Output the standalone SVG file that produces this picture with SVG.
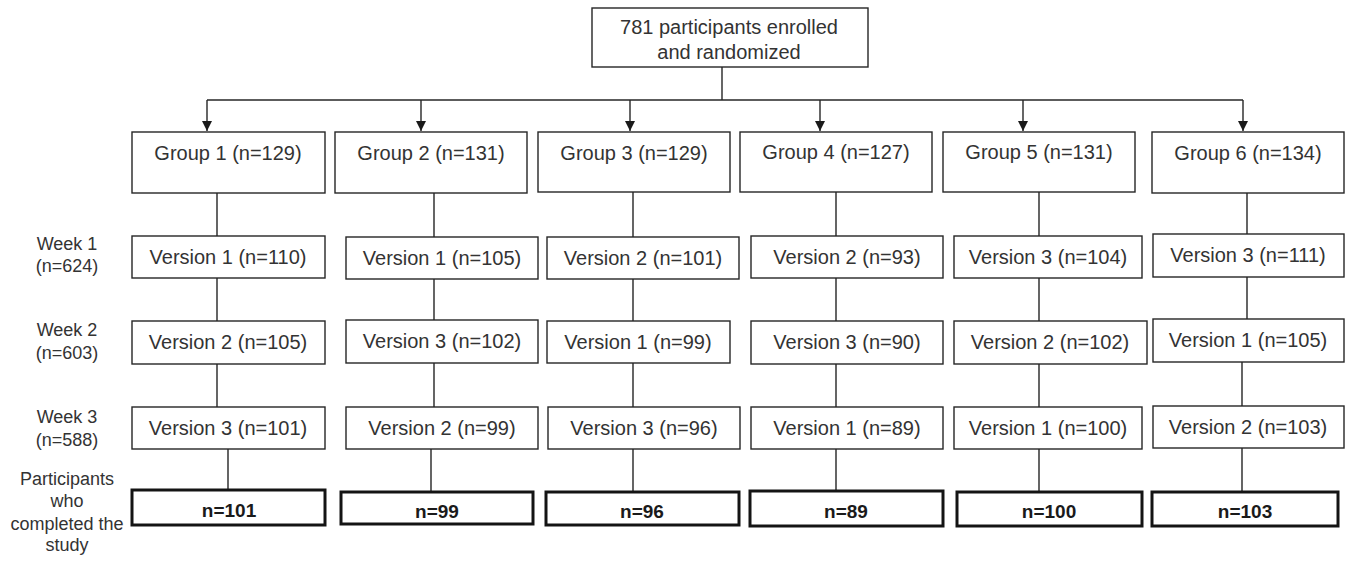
<svg xmlns="http://www.w3.org/2000/svg" width="1352" height="561" viewBox="0 0 1352 561">
<style>
  .box{fill:#fff;stroke:#262626;stroke-width:1.4}
  .fin{fill:#fff;stroke:#141414;stroke-width:3}
  .t{font-family:"Liberation Sans",Arial,sans-serif;font-size:20px;fill:#333;text-anchor:middle}
  .tb{font-family:"Liberation Sans",Arial,sans-serif;font-size:19px;font-weight:bold;fill:#1a1a1a;text-anchor:middle}
  .lab{font-family:"Liberation Sans",Arial,sans-serif;font-size:18px;fill:#333;text-anchor:middle}
  .ln{fill:none;stroke:#262626;stroke-width:1.4}
</style>
<defs>
  <marker id="arr" markerUnits="userSpaceOnUse" markerWidth="11" markerHeight="10" refX="10" refY="5" orient="auto" viewBox="0 0 10 10">
    <path d="M0,0 L10,5 L0,10 Z" fill="#1a1a1a"/>
  </marker>
</defs>
<rect width="1352" height="561" fill="#fff"/>

<g id="connectors">
  <path class="ln" d="M722,67 V100"/>
  <path class="ln" d="M207,100 H1243"/>
  <path class="ln" d="M207,100 V131" marker-end="url(#arr)"/>
  <path class="ln" d="M421,100 V131" marker-end="url(#arr)"/>
  <path class="ln" d="M630,100 V131" marker-end="url(#arr)"/>
  <path class="ln" d="M820,100 V131" marker-end="url(#arr)"/>
  <path class="ln" d="M1023,100 V131" marker-end="url(#arr)"/>
  <path class="ln" d="M1243,100 V131" marker-end="url(#arr)"/>
  <path class="ln" d="M217,193 V236 M217,278 V321 M217,364 V407 M228,449 V489"/>
  <path class="ln" d="M434,193 V237 M434,279 V320 M434,363 V407 M431,449 V492"/>
  <path class="ln" d="M633,192 V237 M633,279 V321 M633,363 V407 M633,449 V492"/>
  <path class="ln" d="M836,192 V236 M836,278 V321 M836,364 V407 M836,449 V491"/>
  <path class="ln" d="M1039,192 V236 M1039,278 V321 M1039,364 V407 M1039,449 V492"/>
  <path class="ln" d="M1247,193 V234 M1247,277 V319 M1242,362 V406 M1242,448 V492"/>
</g>

<g id="root">
  <rect class="box" x="592" y="8" width="276" height="59"/>
  <text class="t" x="729" y="34">781 participants enrolled</text>
  <text class="t" x="729" y="59">and randomized</text>
</g>

<g id="row-labels">
  <text class="lab" x="67" y="250">Week 1</text>
  <text class="lab" x="67" y="272">(n=624)</text>
  <text class="lab" x="67" y="336">Week 2</text>
  <text class="lab" x="67" y="359">(n=603)</text>
  <text class="lab" x="67" y="423">Week 3</text>
  <text class="lab" x="67" y="446">(n=588)</text>
  <text class="lab" x="67" y="485">Participants</text>
  <text class="lab" x="67" y="507">who</text>
  <text class="lab" x="67" y="530">completed the</text>
  <text class="lab" x="67" y="551">study</text>
</g>

<g id="group1">
  <rect class="box" x="132" y="132" width="193" height="61"/>
  <text class="t" x="228" y="160">Group 1 (n=129)</text>
</g>
<g id="g1-w1"><rect class="box" x="132" y="236" width="193" height="42"/><text class="t" x="228" y="264">Version 1 (n=110)</text></g>
<g id="g1-w2"><rect class="box" x="132" y="321" width="193" height="43"/><text class="t" x="228" y="349">Version 2 (n=105)</text></g>
<g id="g1-w3"><rect class="box" x="132" y="407" width="193" height="42"/><text class="t" x="228" y="435">Version 3 (n=101)</text></g>
<g id="g1-done"><rect class="fin" x="132" y="490" width="193" height="35"/><text class="tb" x="229" y="517">n=101</text></g>

<g id="group2">
  <rect class="box" x="335" y="132" width="192" height="61"/>
  <text class="t" x="431" y="160">Group 2 (n=131)</text>
</g>
<g id="g2-w1"><rect class="box" x="346" y="237" width="192" height="42"/><text class="t" x="442" y="265">Version 1 (n=105)</text></g>
<g id="g2-w2"><rect class="box" x="346" y="320" width="192" height="43"/><text class="t" x="442" y="348">Version 3 (n=102)</text></g>
<g id="g2-w3"><rect class="box" x="346" y="407" width="192" height="42"/><text class="t" x="442" y="435">Version 2 (n=99)</text></g>
<g id="g2-done"><rect class="fin" x="341" y="492" width="192" height="32"/><text class="tb" x="437" y="518">n=99</text></g>

<g id="group3">
  <rect class="box" x="538" y="132" width="192" height="60"/>
  <text class="t" x="634" y="160">Group 3 (n=129)</text>
</g>
<g id="g3-w1"><rect class="box" x="547" y="237" width="192" height="42"/><text class="t" x="643" y="265">Version 2 (n=101)</text></g>
<g id="g3-w2"><rect class="box" x="547" y="321" width="183" height="42"/><text class="t" x="638" y="349">Version 1 (n=99)</text></g>
<g id="g3-w3"><rect class="box" x="548" y="407" width="192" height="42"/><text class="t" x="644" y="435">Version 3 (n=96)</text></g>
<g id="g3-done"><rect class="fin" x="546" y="492" width="193" height="33"/><text class="tb" x="642" y="518">n=96</text></g>

<g id="group4">
  <rect class="box" x="740" y="132" width="192" height="60"/>
  <text class="t" x="836" y="159">Group 4 (n=127)</text>
</g>
<g id="g4-w1"><rect class="box" x="751" y="236" width="192" height="42"/><text class="t" x="847" y="264">Version 2 (n=93)</text></g>
<g id="g4-w2"><rect class="box" x="751" y="321" width="192" height="43"/><text class="t" x="847" y="349">Version 3 (n=90)</text></g>
<g id="g4-w3"><rect class="box" x="751" y="407" width="192" height="42"/><text class="t" x="847" y="435">Version 1 (n=89)</text></g>
<g id="g4-done"><rect class="fin" x="750" y="491" width="193" height="35"/><text class="tb" x="846" y="518">n=89</text></g>

<g id="group5">
  <rect class="box" x="943" y="132" width="192" height="60"/>
  <text class="t" x="1039" y="159">Group 5 (n=131)</text>
</g>
<g id="g5-w1"><rect class="box" x="954" y="236" width="188" height="42"/><text class="t" x="1048" y="264">Version 3 (n=104)</text></g>
<g id="g5-w2"><rect class="box" x="954" y="321" width="193" height="43"/><text class="t" x="1050" y="349">Version 2 (n=102)</text></g>
<g id="g5-w3"><rect class="box" x="954" y="407" width="188" height="42"/><text class="t" x="1048" y="435">Version 1 (n=100)</text></g>
<g id="g5-done"><rect class="fin" x="957" y="492" width="185" height="34"/><text class="tb" x="1049" y="518">n=100</text></g>

<g id="group6">
  <rect class="box" x="1152" y="132" width="192" height="61"/>
  <text class="t" x="1248" y="160">Group 6 (n=134)</text>
</g>
<g id="g6-w1"><rect class="box" x="1153" y="234" width="191" height="43"/><text class="t" x="1248" y="262">Version 3 (n=111)</text></g>
<g id="g6-w2"><rect class="box" x="1153" y="319" width="191" height="43"/><text class="t" x="1248" y="347">Version 1 (n=105)</text></g>
<g id="g6-w3"><rect class="box" x="1153" y="406" width="191" height="42"/><text class="t" x="1248" y="434">Version 2 (n=103)</text></g>
<g id="g6-done"><rect class="fin" x="1152" y="492" width="186" height="34"/><text class="tb" x="1245" y="518">n=103</text></g>
</svg>
